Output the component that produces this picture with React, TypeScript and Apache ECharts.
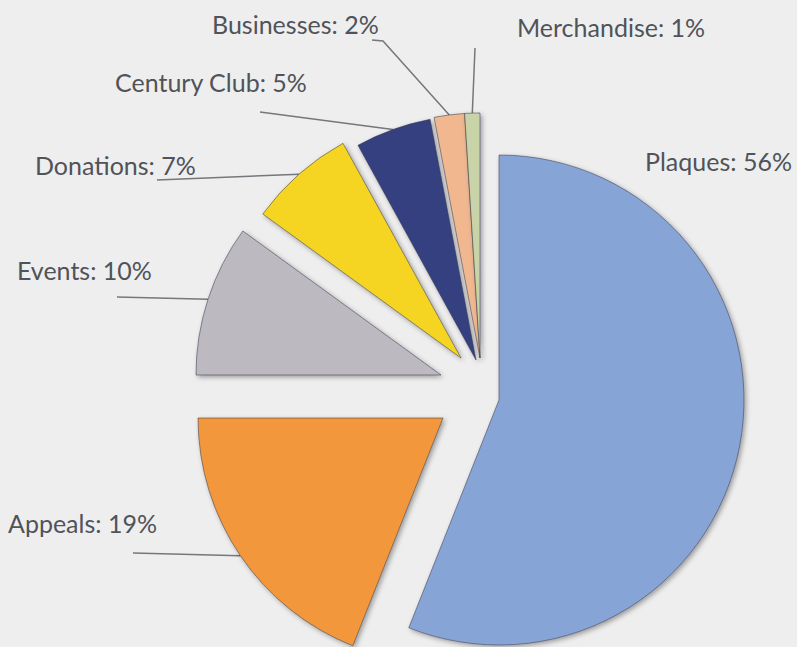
import React, { useEffect, useRef } from "react";
import * as echarts from "echarts";

// ---- data ----
const categories = ["Plaques", "Appeals", "Events", "Donations", "Century Club", "Businesses", "Merchandise"];
const values = [56, 19, 10, 7, 5, 2, 1];
const colors = ["#87a4d7", "#f3973c", "#bdb9c1", "#f6d523", "#353f80", "#f1b890", "#c8d4a8"];

// ---- layout (exploded slice centres, label positions, leader line bends) ----
const centers: number[][] = [[499, 400], [443, 418], [441, 375], [461, 358], [476, 360], [480, 358], [480, 358]];
const labelPos: number[][] = [[645, 161], [8, 523], [17, 270], [35, 165], [115, 82], [212, 24], [517, 27]];
const lineBends: (number[][] | null)[] = [
  null,
  [[133, 553]],
  [[117, 297]],
  [[157, 180]],
  [[260, 112]],
  [[383, 41], [372, 40]],
  [[475, 48]],
];

const RADIUS = 245;

export default function App() {
  const ref = useRef<HTMLDivElement>(null);

  useEffect(() => {
    if (!ref.current) return;
    const chart = echarts.init(ref.current, undefined, { renderer: "svg" });

    const series = categories.map((_, i) => ({
      type: "pie",
      silent: true,
      center: centers[i],
      radius: [0, RADIUS],
      startAngle: 90,
      clockwise: true,
      avoidLabelOverlap: false,
      percentPrecision: 0,
      z: i === 0 ? 2 : 3,
      data: categories.map((name, j) => ({
        name,
        value: values[j],
        itemStyle:
          j === i
            ? {
                color: colors[j],
                borderColor: "rgba(60,60,80,0.55)",
                borderWidth: 1,
                shadowColor: "rgba(0,0,0,0.35)",
                shadowBlur: 5,
                shadowOffsetX: 2,
                shadowOffsetY: 2,
              }
            : { color: "rgba(0,0,0,0)", borderWidth: 0 },
        label: { show: j === i },
        labelLine: { show: j === i && lineBends[j] !== null },
      })),
      label: {
        position: "outside",
        formatter: "{b}: {d}%",
        fontFamily: "Lato, 'Open Sans', sans-serif",
        fontSize: 25,
        color: "#505359",
      },
      labelLine: {
        length: 10,
        length2: 10,
        lineStyle: { color: "#75777c", width: 1.5 },
      },
      labelLayout: (params: any) => {
        if (params.dataIndex !== i) return {};
        const res: any = {
          x: labelPos[i][0],
          y: labelPos[i][1],
          align: "left",
          verticalAlign: "middle",
        };
        const bends = lineBends[i];
        const pts = params.labelLinePoints;
        if (bends && pts && pts[0]) {
          const p0 = pts[0];
          const rest = bends.length === 1 ? [bends[0], bends[0]] : bends;
          res.labelLinePoints = [p0, rest[0], rest[1]];
        }
        return res;
      },
    }));

    chart.setOption({
      animation: false,
      backgroundColor: "#eeeeee",
      series,
    } as any);

    return () => chart.dispose();
  }, []);

  return (
    <div
      ref={ref}
      style={{ position: "fixed", left: 0, top: 0, width: 797, height: 647 }}
    />
  );
}
